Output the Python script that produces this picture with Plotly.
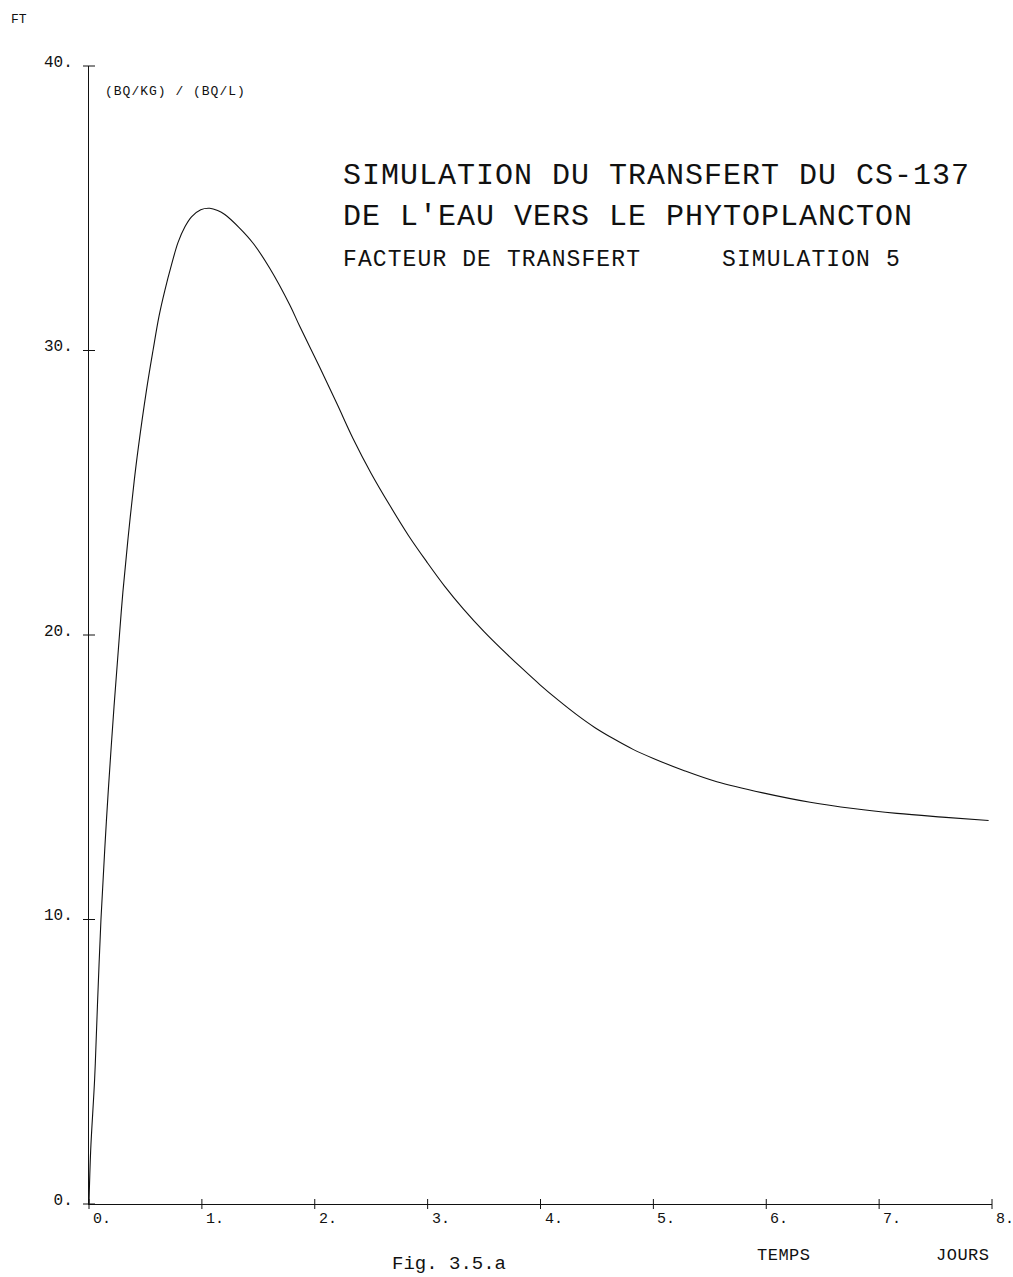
import plotly.graph_objects as go

# Simulated transfer factor FT of Cs-137 from water to phytoplankton (simulation 5)
temps_jours = [0.0, 0.015, 0.05, 0.075, 0.106, 0.14, 0.172, 0.222, 0.266, 0.30,
               0.346, 0.40, 0.434, 0.509, 0.567, 0.62, 0.671, 0.73, 0.789, 0.85,
               0.908, 0.99, 1.07, 1.14, 1.203, 1.33, 1.454, 1.6, 1.779, 1.868,
               2.045, 2.2, 2.34, 2.5, 2.666, 2.83, 2.991, 3.15, 3.316, 3.5,
               3.67, 3.83, 3.996, 4.16, 4.32, 4.48, 4.648, 4.82, 5.0, 5.28,
               5.562, 5.97, 6.389, 6.77, 7.158, 7.56, 7.97]
facteur_ft = [0.0, 1.9, 4.4, 7.0, 10.0, 12.5, 14.6, 17.5, 19.8, 21.5,
              23.4, 25.4, 26.5, 28.6, 30.0, 31.2, 32.1, 33.0, 33.8, 34.35,
              34.7, 34.95, 35.0, 34.92, 34.78, 34.32, 33.77, 32.9, 31.6, 30.84,
              29.4, 28.1, 26.9, 25.68, 24.55, 23.5, 22.58, 21.72, 20.92, 20.12,
              19.45, 18.85, 18.25, 17.7, 17.2, 16.75, 16.35, 15.98, 15.66, 15.22,
              14.84, 14.45, 14.12, 13.9, 13.73, 13.6, 13.48]

x_ticks = [0, 1, 2, 3, 4, 5, 6, 7, 8]
x_tick_labels = ["0.", "1.", "2.", "3.", "4.", "5.", "6.", "7.", "8."]
y_ticks = [0, 10, 20, 30, 40]
y_tick_labels = ["0.", "10.", "20.", "30.", "40."]

X_RANGE = [0, 8]
Y_RANGE = [0, 40]

FONT = "Liberation Mono"
INK = "#111111"


def spaced(text, px):
    return f"<span style='letter-spacing:{px}px'>{text}</span>"


def x_frac(v):
    return (v - X_RANGE[0]) / (X_RANGE[1] - X_RANGE[0])


def y_frac(v):
    return (v - Y_RANGE[0]) / (Y_RANGE[1] - Y_RANGE[0])


fig = go.Figure()
fig.add_trace(go.Scatter(
    x=temps_jours, y=facteur_ft, mode="lines",
    line=dict(color=INK, width=1.1, shape="spline", smoothing=1.0),
    hoverinfo="skip", showlegend=False,
))

# crossing tick marks on both axes, placed from the tick values
shapes = []
for t in x_ticks:
    shapes.append(dict(type="line", xref="paper", yref="paper",
                       x0=x_frac(t), x1=x_frac(t),
                       ysizemode="pixel", yanchor=0, y0=-5, y1=5,
                       line=dict(color=INK, width=1)))
for t in y_ticks:
    shapes.append(dict(type="line", xref="paper", yref="paper",
                       y0=y_frac(t), y1=y_frac(t),
                       xsizemode="pixel", xanchor=0, x0=-6, x1=6,
                       line=dict(color=INK, width=1)))

annotations = []
# time labels sit just right of each tick, below the axis
for t, lab in zip(x_ticks, x_tick_labels):
    annotations.append(dict(text=lab, xref="paper", yref="paper",
                            x=x_frac(t), y=0, xshift=2, yshift=-15,
                            xanchor="left", yanchor="middle", showarrow=False,
                            font=dict(family=FONT, size=15, color=INK)))

annotations += [
    dict(text="FT", xref="paper", yref="paper", x=-0.089, y=1.041,
         xanchor="left", yanchor="middle", showarrow=False,
         font=dict(family=FONT, size=13, color=INK)),
    dict(text=spaced("(BQ/KG) / (BQ/L)", 1), xref="paper", yref="paper",
         x=0.0151, y=0.978, xanchor="left", yanchor="middle", showarrow=False,
         font=dict(family=FONT, size=13, color=INK)),
    dict(text=spaced("SIMULATION DU TRANSFERT DU CS-137", 1), xref="paper", yref="paper",
         x=0.2792, y=0.9037, xanchor="left", yanchor="middle", showarrow=False,
         font=dict(family=FONT, size=30, color=INK)),
    dict(text=spaced("DE L'EAU VERS LE PHYTOPLANCTON", 1), xref="paper", yref="paper",
         x=0.2792, y=0.8677, xanchor="left", yanchor="middle", showarrow=False,
         font=dict(family=FONT, size=30, color=INK)),
    dict(text=spaced("FACTEUR DE TRANSFERT", 1.1), xref="paper", yref="paper",
         x=0.2792, y=0.8299, xanchor="left", yanchor="middle", showarrow=False,
         font=dict(family=FONT, size=23, color=INK)),
    dict(text=spaced("SIMULATION 5", 1.1), xref="paper", yref="paper",
         x=0.699, y=0.8299, xanchor="left", yanchor="middle", showarrow=False,
         font=dict(family=FONT, size=23, color=INK)),
    dict(text=spaced("TEMPS", 0.5), xref="paper", yref="paper",
         x=0.7373, y=-0.0453, xanchor="left", yanchor="middle", showarrow=False,
         font=dict(family=FONT, size=17, color=INK)),
    dict(text=spaced("JOURS", 0.5), xref="paper", yref="paper",
         x=0.9360, y=-0.0453, xanchor="left", yanchor="middle", showarrow=False,
         font=dict(family=FONT, size=17, color=INK)),
    dict(text="Fig. 3.5.a", xref="paper", yref="paper",
         x=0.3335, y=-0.0526, xanchor="left", yanchor="middle", showarrow=False,
         font=dict(family=FONT, size=19, color=INK)),
]

fig.update_layout(
    width=1013, height=1277,
    margin=dict(l=89, r=21, t=66, b=73, pad=0),
    paper_bgcolor="white", plot_bgcolor="white",
    shapes=shapes, annotations=annotations,
    xaxis=dict(range=X_RANGE, showgrid=False, zeroline=False,
               showline=True, linecolor=INK, linewidth=1,
               ticks="", showticklabels=False),
    yaxis=dict(range=Y_RANGE, showgrid=False, zeroline=False,
               showline=True, linecolor=INK, linewidth=1,
               tickmode="array", tickvals=y_ticks, ticktext=y_tick_labels,
               ticks="", ticklabelshift=-5, ticklabelstandoff=12,
               ticklabeloverflow="allow",
               tickfont=dict(family=FONT, size=16, color=INK)),
)

fig.write_html("out.html")
